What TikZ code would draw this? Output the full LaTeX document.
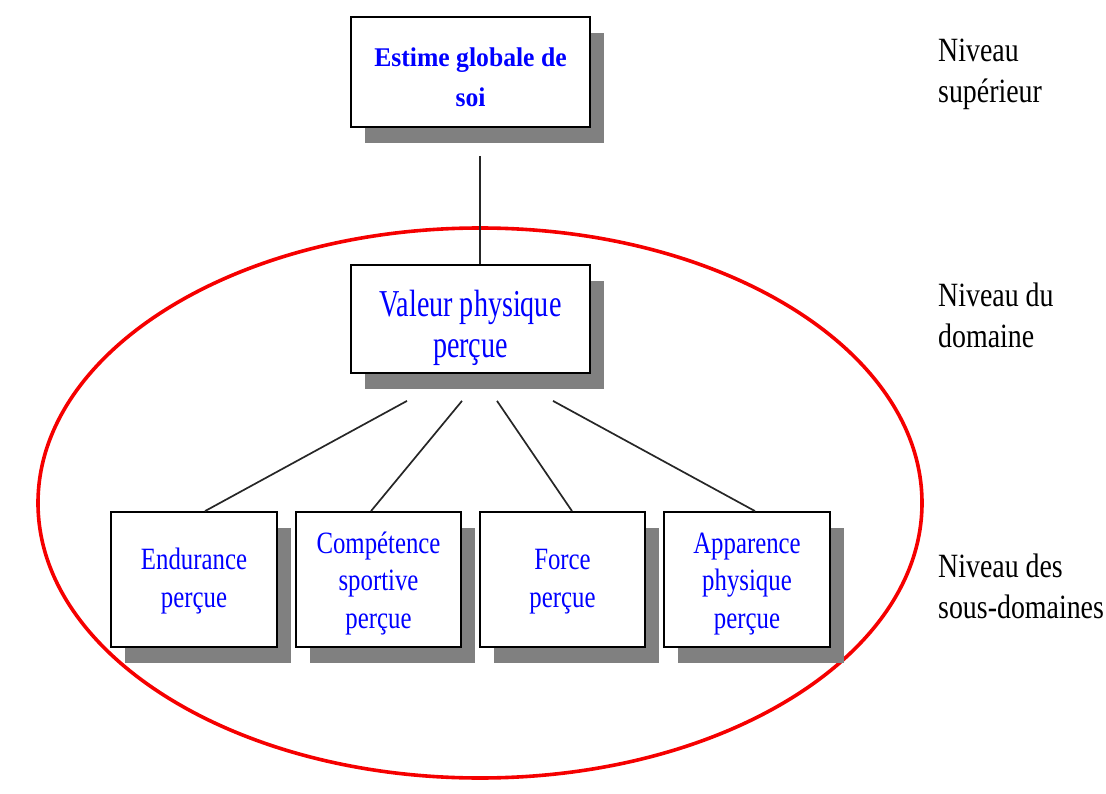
\documentclass[tikz,border=0pt]{standalone}
\usepackage{fontspec}
\setmainfont{Liberation Serif}
\newfontfamily\fTop{Liberation Serif}[FakeStretch=0.95]
\newfontfamily\fMid{Liberation Serif}[FakeStretch=0.74]
\newfontfamily\fBot{Liberation Serif}[FakeStretch=0.80]
\newfontfamily\fLab{Liberation Serif}[FakeStretch=0.82]
\usetikzlibrary{shadows}
\definecolor{txtblue}{RGB}{0,0,255}
\definecolor{shgray}{RGB}{128,128,128}
\definecolor{ellred}{RGB}{245,0,0}
\lineskiplimit=-100pt
\newcommand\dnstrut[1]{\rule{0pt}{#1}}
\tikzset{
  box/.style={draw=black, line width=1.8pt, fill=white, inner sep=0pt, align=center,
    text=txtblue, drop shadow={shadow xshift=14pt, shadow yshift=-16pt, fill=shgray, opacity=1}},
  topbox/.style={box, minimum width=239pt, minimum height=110pt, font=\fTop\bfseries\fontsize{27}{40}\selectfont},
  midbox/.style={box, minimum width=239pt, minimum height=108pt, font=\fMid\fontsize{38}{41}\selectfont},
  subbox/.style={box, minimum width=165.5pt, minimum height=135pt, font=\fBot\fontsize{31}{37.5}\selectfont},
  lvl/.style={anchor=west, align=left, inner sep=0pt, font=\fLab\fontsize{34}{41}\selectfont},
  link/.style={draw=black!85, line width=1.7pt},
}
\begin{document}
\begin{tikzpicture}[x=1pt, y=1pt]
\useasboundingbox (0,0) rectangle (1106,-794);
\draw[ellred, line width=3.6pt] (480,-503) ellipse [x radius=442, y radius=275];
\node[topbox] (top) at (470.5,-72) {\dnstrut{29.5pt}Estime globale de\\soi};
\node[midbox] (mid) at (470.5,-319) {\dnstrut{45pt}Valeur physique\\perçue};
\node[subbox] (s1) at (194,-579.5) {\dnstrut{25pt}Endurance\\perçue};
\node[subbox] (s2) at (378.5,-579.5) {\dnstrut{29pt}Compétence\\sportive\\perçue};
\node[subbox] (s3) at (562.5,-579.5) {\dnstrut{25pt}Force\\perçue};
\node[subbox] (s4) at (747,-579.5) {\dnstrut{29pt}Apparence\\physique\\perçue};
\draw[link] ([xshift=9.5pt,yshift=-28pt]top.south) -- ([xshift=9.5pt]mid.north);
\draw[link] ([xshift=-63.5pt,yshift=-27pt]mid.south) -- ([xshift=11pt]s1.north);
\draw[link] ([xshift=-8.5pt,yshift=-27pt]mid.south) -- ([xshift=-7.5pt]s2.north);
\draw[link] ([xshift=26.5pt,yshift=-27pt]mid.south) -- ([xshift=9.5pt]s3.north);
\draw[link] ([xshift=82.5pt,yshift=-27pt]mid.south) -- ([xshift=8pt]s4.north);
\node[lvl] (l1) at (938,-74) {Niveau\\supérieur};
\node[lvl] (l2) at (938,-315) {Niveau du\\domaine};
\node[lvl] (l3) at (938,-586) {Niveau des\\sous-domaines};
\end{tikzpicture}
\end{document}
